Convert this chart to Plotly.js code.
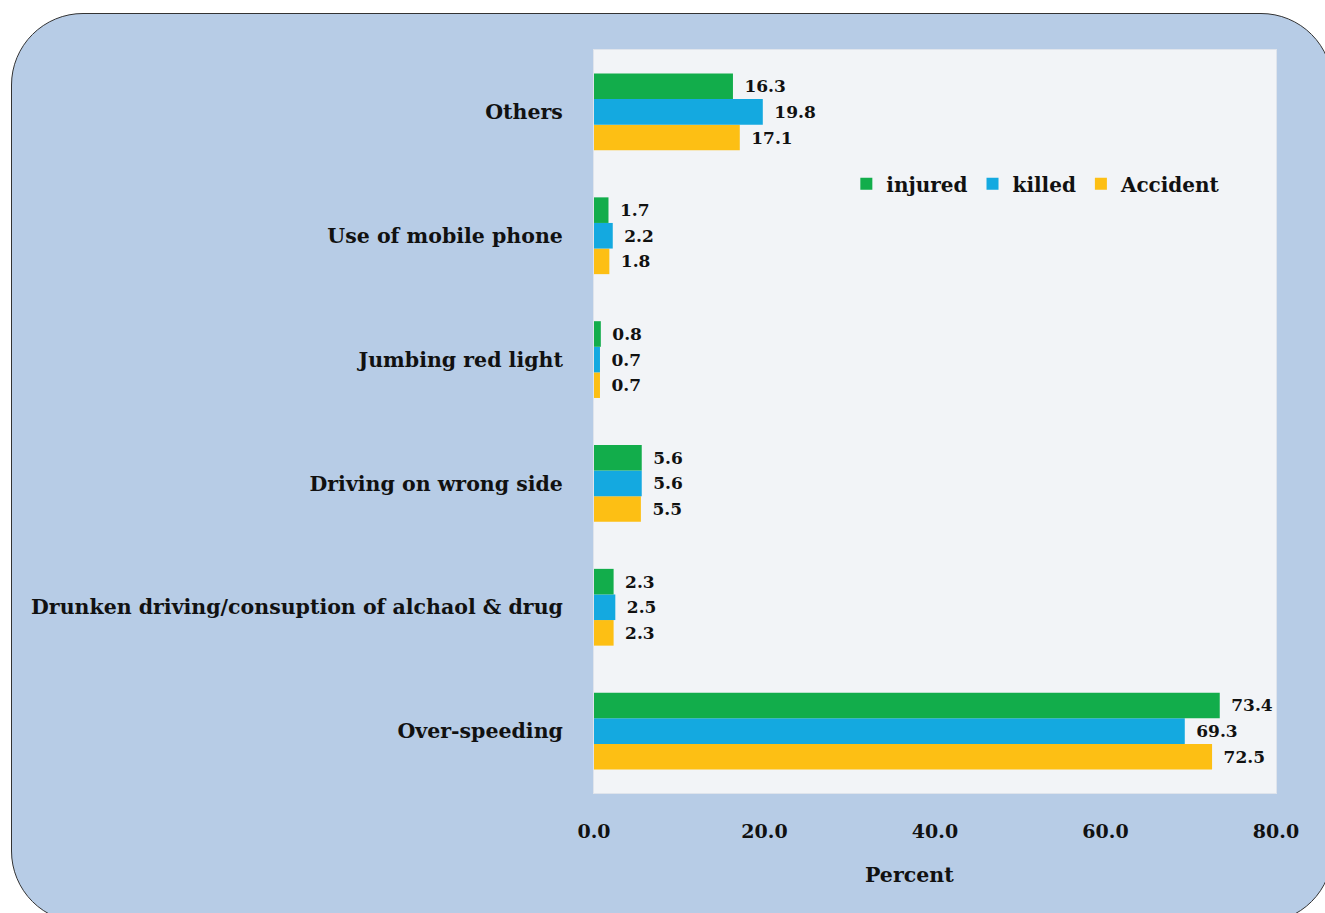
<!DOCTYPE html>
<html>
<head>
<meta charset="utf-8">
<script src="https://cdn.plot.ly/plotly-3.0.1.min.js"></script>
<style>
html,body{margin:0;padding:0;width:1325px;height:913px;overflow:hidden;background:#ffffff;}
#frame{position:absolute;left:11px;top:13px;width:1322px;height:910px;border:1.5px solid #333;border-radius:72px;background:#b7cce6;box-sizing:border-box;}
#chart{position:absolute;left:0;top:0;width:1325px;height:913px;}
</style>
</head>
<body>
<div id="frame"></div>
<div id="chart"></div>
<script>
const categories = ["Over-speeding", "Drunken driving/consuption of alchaol & drug", "Driving on wrong side", "Jumbing red light", "Use of mobile phone", "Others"];
const injured = [73.4, 2.3, 5.6, 0.8, 1.7, 16.3];
const killed = [69.3, 2.5, 5.6, 0.7, 2.2, 19.8];
const accident = [72.5, 2.3, 5.5, 0.7, 1.8, 17.1];
const xTicks = [0, 20, 40, 60, 80];
const xTickText = ["0.0", "20.0", "40.0", "60.0", "80.0"];

const serif = "DejaVu Serif, serif";
const txtFont = {family: serif, size: 17, color: "#111"};

function bar(name, vals, color) {
  return {
    type: "bar", orientation: "h", name: name,
    y: categories, x: vals,
    marker: {color: color},
    text: vals.map(v => "<b>\u2002" + v.toFixed(1) + "</b>"),
    textposition: "outside", textfont: txtFont, cliponaxis: false,
    hoverinfo: "x+name"
  };
}

const data = [
  bar("Accident", accident, "#fdbf14"),
  bar("killed", killed, "#14a9e0"),
  bar("injured", injured, "#12ad4b")
];

const layout = {
  width: 1325, height: 913,
  margin: {l: 594, r: 49, t: 50, b: 120},
  paper_bgcolor: "rgba(0,0,0,0)",
  plot_bgcolor: "#f2f4f7",
  barmode: "group", bargap: 0.38, bargroupgap: 0,
  showlegend: true,
  legend: {
    orientation: "h", traceorder: "reversed",
    x: 0.37, xanchor: "left", y: 0.82, yanchor: "middle",
    bgcolor: "rgba(0,0,0,0)",
    font: {family: serif, size: 20, color: "#111", weight: "bold"},
    itemwidth: 30
  },
  xaxis: {
    range: [0, 80], tickvals: xTicks, ticktext: xTickText.map(t => "<b>" + t + "</b>"),
    showgrid: false, zeroline: false, showline: true, linecolor: "#dfe4ec", mirror: true,
    ticks: "", ticklabelstandoff: 21,
    tickfont: {family: serif, size: 19, color: "#111"}
  },
  yaxis: {
    showgrid: false, zeroline: false, showline: true, linecolor: "#dfe4ec", mirror: true,
    ticks: "", ticklabelstandoff: 26,
    tickfont: {family: serif, size: 20.5, color: "#111"},
    tickvals: categories, ticktext: categories.map(c => "<b>" + c.replace("&", "&amp;") + "</b>")
  },
  annotations: [{
    text: "<b>Percent</b>", xref: "paper", yref: "paper",
    x: 0.463, y: -0.11, xanchor: "center", yanchor: "middle", showarrow: false,
    font: {family: serif, size: 20.5, color: "#111"}
  }]
};

Plotly.newPlot("chart", data, layout, {displayModeBar: false, staticPlot: true});
</script>
</body>
</html>
